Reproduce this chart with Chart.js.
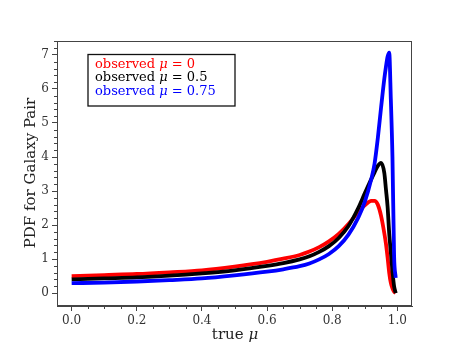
<!DOCTYPE html>
<html>
<head>
<meta charset="utf-8">
<script src="https://cdn.jsdelivr.net/npm/chart.js@4"></script>
<style>
  html, body { margin: 0; padding: 0; background: #fff; }
</style>
</head>
<body>
<canvas id="pdf" width="458" height="343"></canvas>
<script>
// true mu grid and PDFs
const muTrue = [0, 0.1, 0.2, 0.3, 0.4, 0.5, 0.6, 0.65, 0.7, 0.73, 0.76, 0.79, 0.82, 0.85, 0.88, 0.9, 0.92, 0.93, 0.94, 0.95, 0.96, 0.965, 0.97, 0.975, 0.98, 0.985, 0.99, 0.995]
const pdfMu0 = [0.50, 0.53, 0.56, 0.61, 0.67, 0.78, 0.92, 1.01, 1.12, 1.22, 1.35, 1.52, 1.74, 2.03, 2.38, 2.58, 2.71, 2.71, 2.60, 2.27, 1.76, 1.45, 1.05, 0.60, 0.30, 0.14, 0.04, 0.0]
const pdfMu05 = [0.40, 0.43, 0.46, 0.51, 0.58, 0.67, 0.80, 0.88, 0.99, 1.08, 1.21, 1.38, 1.62, 1.97, 2.50, 2.93, 3.35, 3.55, 3.74, 3.83, 3.53, 3.05, 2.55, 1.76, 1.20, 0.65, 0.20, 0.0]
const pdfMu075 = [0.29, 0.31, 0.34, 0.38, 0.43, 0.52, 0.63, 0.70, 0.79, 0.87, 0.99, 1.15, 1.38, 1.72, 2.22, 2.68, 3.35, 3.80, 4.55, 5.45, 6.30, 6.65, 6.95, 7.07, 5.70, 4.00, 1.10, 0.45]

const legendLabels = ['0', '0.5', '0.75']
const colors = ['#ff0000', '#000000', '#0000ff']

const serif = '"DejaVu Serif", serif'
const pts = ys => muTrue.map((x, i) => ({ x: x, y: ys[i] }))

// frame, minor ticks, legend box and axis titles (mixed italic mu)
const extras = {
  id: 'extras',
  afterDraw(chart) {
    const ctx = chart.ctx
    const a = chart.chartArea
    const xs = chart.scales.x
    const ys = chart.scales.y
    ctx.save()
    ctx.strokeStyle = '#444'
    ctx.lineWidth = 1
    ctx.strokeRect(a.left + 0.5, a.top + 0.5, a.right - a.left - 1, a.bottom - a.top - 1)

    // minor ticks
    ctx.beginPath()
    for (let k = 0; k <= 20; k++) {
      if (k % 4 === 0) continue
      const px = Math.round(xs.getPixelForValue(k * 0.05)) + 0.5
      ctx.moveTo(px, a.bottom)
      ctx.lineTo(px, a.bottom + 3)
    }
    for (let k = 0; k <= 37; k++) {
      if (k % 5 === 0) continue
      const py = Math.round(ys.getPixelForValue(k * 0.2)) + 0.5
      ctx.moveTo(a.left, py)
      ctx.lineTo(a.left - 3, py)
    }
    ctx.stroke()

    // legend
    ctx.strokeStyle = '#111'
    ctx.lineWidth = 1.3
    ctx.strokeRect(88, 54.5, 147, 51.5)
    ctx.textBaseline = 'middle'
    legendLabels.forEach((v, i) => {
      const y = 64.5 + i * 13.4
      let x = 95
      ctx.fillStyle = colors[i]
      ctx.font = '13px ' + serif
      ctx.fillText('observed ', x, y)
      x += ctx.measureText('observed ').width
      ctx.font = 'italic 13px ' + serif
      ctx.fillText('μ', x, y)
      x += ctx.measureText('μ').width
      ctx.font = '13px ' + serif
      ctx.fillText(' = ' + v, x, y)
    })

    // axis titles
    ctx.fillStyle = '#222'
    const t1 = 'true '
    ctx.font = 'italic 15px ' + serif
    const wm = ctx.measureText('μ').width
    ctx.font = '15px ' + serif
    const w1 = ctx.measureText(t1).width
    let x0 = 235 - (w1 + wm) / 2
    ctx.fillText(t1, x0, 335)
    ctx.font = 'italic 15px ' + serif
    ctx.fillText('μ', x0 + w1, 335)

    ctx.translate(31, 173)
    ctx.rotate(-Math.PI / 2)
    ctx.textAlign = 'center'
    ctx.font = '15px ' + serif
    ctx.fillText('PDF for Galaxy Pair', 0, 0)
    ctx.restore()
  }
}

new Chart(document.getElementById('pdf'), {
  type: 'scatter',
  data: {
    datasets: [
      { label: 'observed mu = 0', data: pts(pdfMu0), borderColor: colors[0], order: 3 },
      { label: 'observed mu = 0.5', data: pts(pdfMu05), borderColor: colors[1], order: 2 },
      { label: 'observed mu = 0.75', data: pts(pdfMu075), borderColor: colors[2], order: 1 }
    ]
  },
  options: {
    responsive: false,
    devicePixelRatio: 1,
    animation: false,
    showLine: true,
    layout: { padding: { top: 41, right: 46, left: 0, bottom: 0 } },
    elements: {
      point: { radius: 0, hoverRadius: 0 },
      line: { borderWidth: 3.8, cubicInterpolationMode: 'monotone', fill: false }
    },
    plugins: { legend: { display: false }, tooltip: { enabled: false } },
    scales: {
      x: {
        type: 'linear',
        min: -0.045,
        max: 1.045,
        afterFit: s => { s.height = 37 },
        grid: { drawOnChartArea: false, tickLength: 5, tickColor: '#444' },
        border: { display: true, color: '#444' },
        ticks: {
          stepSize: 0.2,
          includeBounds: false,
          padding: 3,
          color: '#333',
          font: { family: serif, size: 12 },
          maxRotation: 0,
          callback: v => v.toFixed(1)
        }
      },
      y: {
        type: 'linear',
        min: -0.38,
        max: 7.41,
        afterFit: s => { s.width = 57 },
        grid: { drawOnChartArea: false, tickLength: 5, tickColor: '#444' },
        border: { display: true, color: '#444' },
        ticks: {
          stepSize: 1,
          includeBounds: false,
          padding: 3,
          color: '#333',
          font: { family: serif, size: 12 },
          callback: v => String(v)
        }
      }
    }
  },
  plugins: [extras]
})
</script>
</body>
</html>
